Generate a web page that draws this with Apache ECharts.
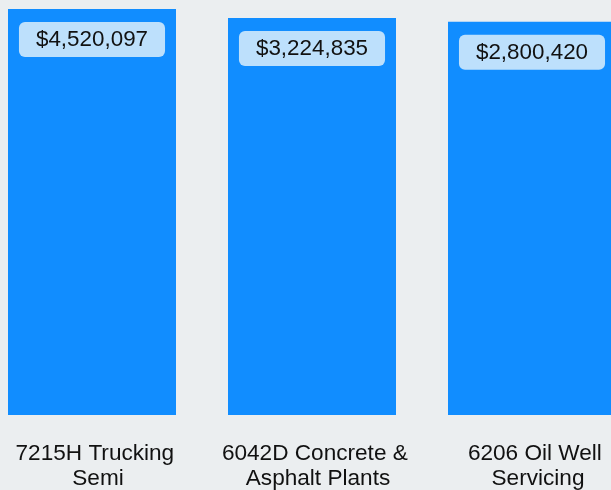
<!DOCTYPE html>
<html>
<head>
<meta charset="utf-8">
<script src="https://cdn.jsdelivr.net/npm/echarts@6/dist/echarts.min.js"></script>
<style>
  html, body { margin: 0; padding: 0; background: #ebeef0; }
  #chart { width: 611px; height: 490px; }
</style>
</head>
<body>
<div id="chart"></div>
<script>
  // categories and totals
  const categories = ['7215H Trucking Semi', '6042D Concrete & Asphalt Plants', '6206 Oil Well Servicing']
  const totals = [4520097, 3224835, 2800420]

  const chart = echarts.init(document.getElementById('chart'))
  const fontFamily = '"Liberation Sans", Arial, sans-serif'

  chart.setOption({
    backgroundColor: '#ebeef0',
    animation: false,
    grid: {
      left: -18,
      right: -31,
      top: -12,
      bottom: 75,
      outerBoundsMode: 'none',
      containLabel: false
    },
    xAxis: {
      type: 'category',
      data: categories,
      axisLine: { show: false },
      axisTick: { show: false },
      axisLabel: {
        interval: 0,
        margin: 26,
        color: '#111',
        fontSize: 22.6,
        lineHeight: 25,
        fontFamily: fontFamily,
        width: 200,
        overflow: 'break',
        padding: [0, 0, 0, 12]
      }
    },
    yAxis: {
      type: 'log',
      min: 1,
      max: 10000000,
      show: false,
      splitLine: { show: false }
    },
    series: [{
      type: 'bar',
      data: totals,
      barWidth: 168,
      itemStyle: { color: '#118dff' },
      label: {
        show: true,
        position: 'insideTop',
        distance: 13,
        formatter: function (p) {
          return '$' + p.value.toLocaleString('en-US')
        },
        color: '#111',
        fontSize: 22.4,
        lineHeight: 22,
        fontFamily: fontFamily,
        backgroundColor: '#bde0fc',
        borderRadius: 6,
        padding: [7, 17, 6, 17]
      }
    }]
  })
</script>
</body>
</html>
